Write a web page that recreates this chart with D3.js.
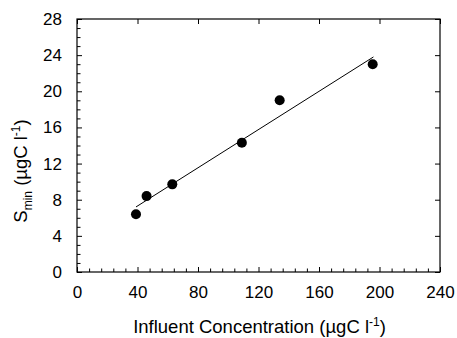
<!DOCTYPE html>
<html>
<head>
<meta charset="utf-8">
<script src="https://cdn.jsdelivr.net/npm/d3@7"></script>
<style>
  html, body { margin: 0; padding: 0; background: #fff; }
  svg { display: block; }
  text { font-family: "Liberation Sans", Arial, sans-serif; fill: #000; }
</style>
</head>
<body>
<svg id="chart" width="457" height="338"></svg>
<script>
// ---- data ----
const influent = [39, 46, 63, 109, 134, 195.5];
const smin = [6.4, 8.4, 9.7, 14.3, 19.0, 23.0];
const fitX = [39, 196];
const fitY = [7.2, 23.8];
const xTicks = [0, 40, 80, 120, 160, 200, 240];
const yTicks = [0, 4, 8, 12, 16, 20, 24, 28];

const svg = d3.select("#chart");
const m = { left: 77, right: 440, top: 19, bottom: 272 };

const x = d3.scaleLinear().domain([0, 240]).range([m.left, m.right]);
const y = d3.scaleLinear().domain([0, 28]).range([m.bottom, m.top]);

const xMinor = d3.range(0, 241, 8).filter(v => v % 40 !== 0);
const yMinor = d3.range(0, 29, 1).filter(v => v % 4 !== 0);

// frame
svg.append("rect")
  .attr("x", m.left).attr("y", m.top)
  .attr("width", m.right - m.left).attr("height", m.bottom - m.top)
  .attr("fill", "none").attr("stroke", "#000").attr("stroke-width", 1.2);

// bottom axis
const bottom = svg.append("g").attr("transform", `translate(0,${m.bottom})`)
  .call(d3.axisBottom(x).tickValues(xTicks).tickSize(-5).tickPadding(14).tickFormat(d3.format("d")));
bottom.select(".domain").remove();
bottom.selectAll("text").attr("font-size", 17).attr("dy", "0.71em");
svg.append("g").attr("transform", `translate(0,${m.bottom})`)
  .call(d3.axisBottom(x).tickValues(xMinor).tickSize(-3.5).tickFormat(""))
  .select(".domain").remove();

// left axis
const left = svg.append("g").attr("transform", `translate(${m.left},0)`)
  .call(d3.axisLeft(y).tickValues(yTicks).tickSize(-5).tickPadding(15).tickFormat(d3.format("d")));
left.select(".domain").remove();
left.selectAll("text").attr("font-size", 17);
svg.append("g").attr("transform", `translate(${m.left},0)`)
  .call(d3.axisLeft(y).tickValues(yMinor).tickSize(-3.5).tickFormat(""))
  .select(".domain").remove();

// top axis (major only)
svg.append("g").attr("transform", `translate(0,${m.top})`)
  .call(d3.axisTop(x).tickValues(xTicks).tickSize(-5).tickFormat(""))
  .select(".domain").remove();
// right axis (major only)
svg.append("g").attr("transform", `translate(${m.right},0)`)
  .call(d3.axisRight(y).tickValues(yTicks).tickSize(-5).tickFormat(""))
  .select(".domain").remove();

svg.selectAll(".tick line").attr("stroke", "#000").attr("stroke-width", 1);

// fit line
svg.append("line")
  .attr("x1", x(fitX[0])).attr("y1", y(fitY[0]))
  .attr("x2", x(fitX[1])).attr("y2", y(fitY[1]))
  .attr("stroke", "#000").attr("stroke-width", 1);

// points
svg.append("g").selectAll("circle")
  .data(influent.map((v, i) => [v, smin[i]]))
  .join("circle")
  .attr("cx", d => x(d[0])).attr("cy", d => y(d[1]))
  .attr("r", 5).attr("fill", "#000");

// x axis title
const xt = svg.append("text")
  .attr("x", (m.left + m.right) / 2 + 1).attr("y", 333)
  .attr("text-anchor", "middle").attr("font-size", 18.5);
xt.append("tspan").text("Influent Concentration (µgC l");
xt.append("tspan").attr("font-size", 12).attr("dy", -7.5).text("-1");
xt.append("tspan").attr("dy", 7.5).text(")");

// y axis title
const yt = svg.append("text")
  .attr("transform", "translate(27,171) rotate(-90)")
  .attr("text-anchor", "middle").attr("font-size", 18.5);
yt.append("tspan").text("S");
yt.append("tspan").attr("font-size", 12).attr("dy", 5).text("min");
yt.append("tspan").attr("dy", -5).text(" (µgC l");
yt.append("tspan").attr("font-size", 12).attr("dy", -7.5).text("-1");
yt.append("tspan").attr("dy", 7.5).text(")");
</script>
</body>
</html>
